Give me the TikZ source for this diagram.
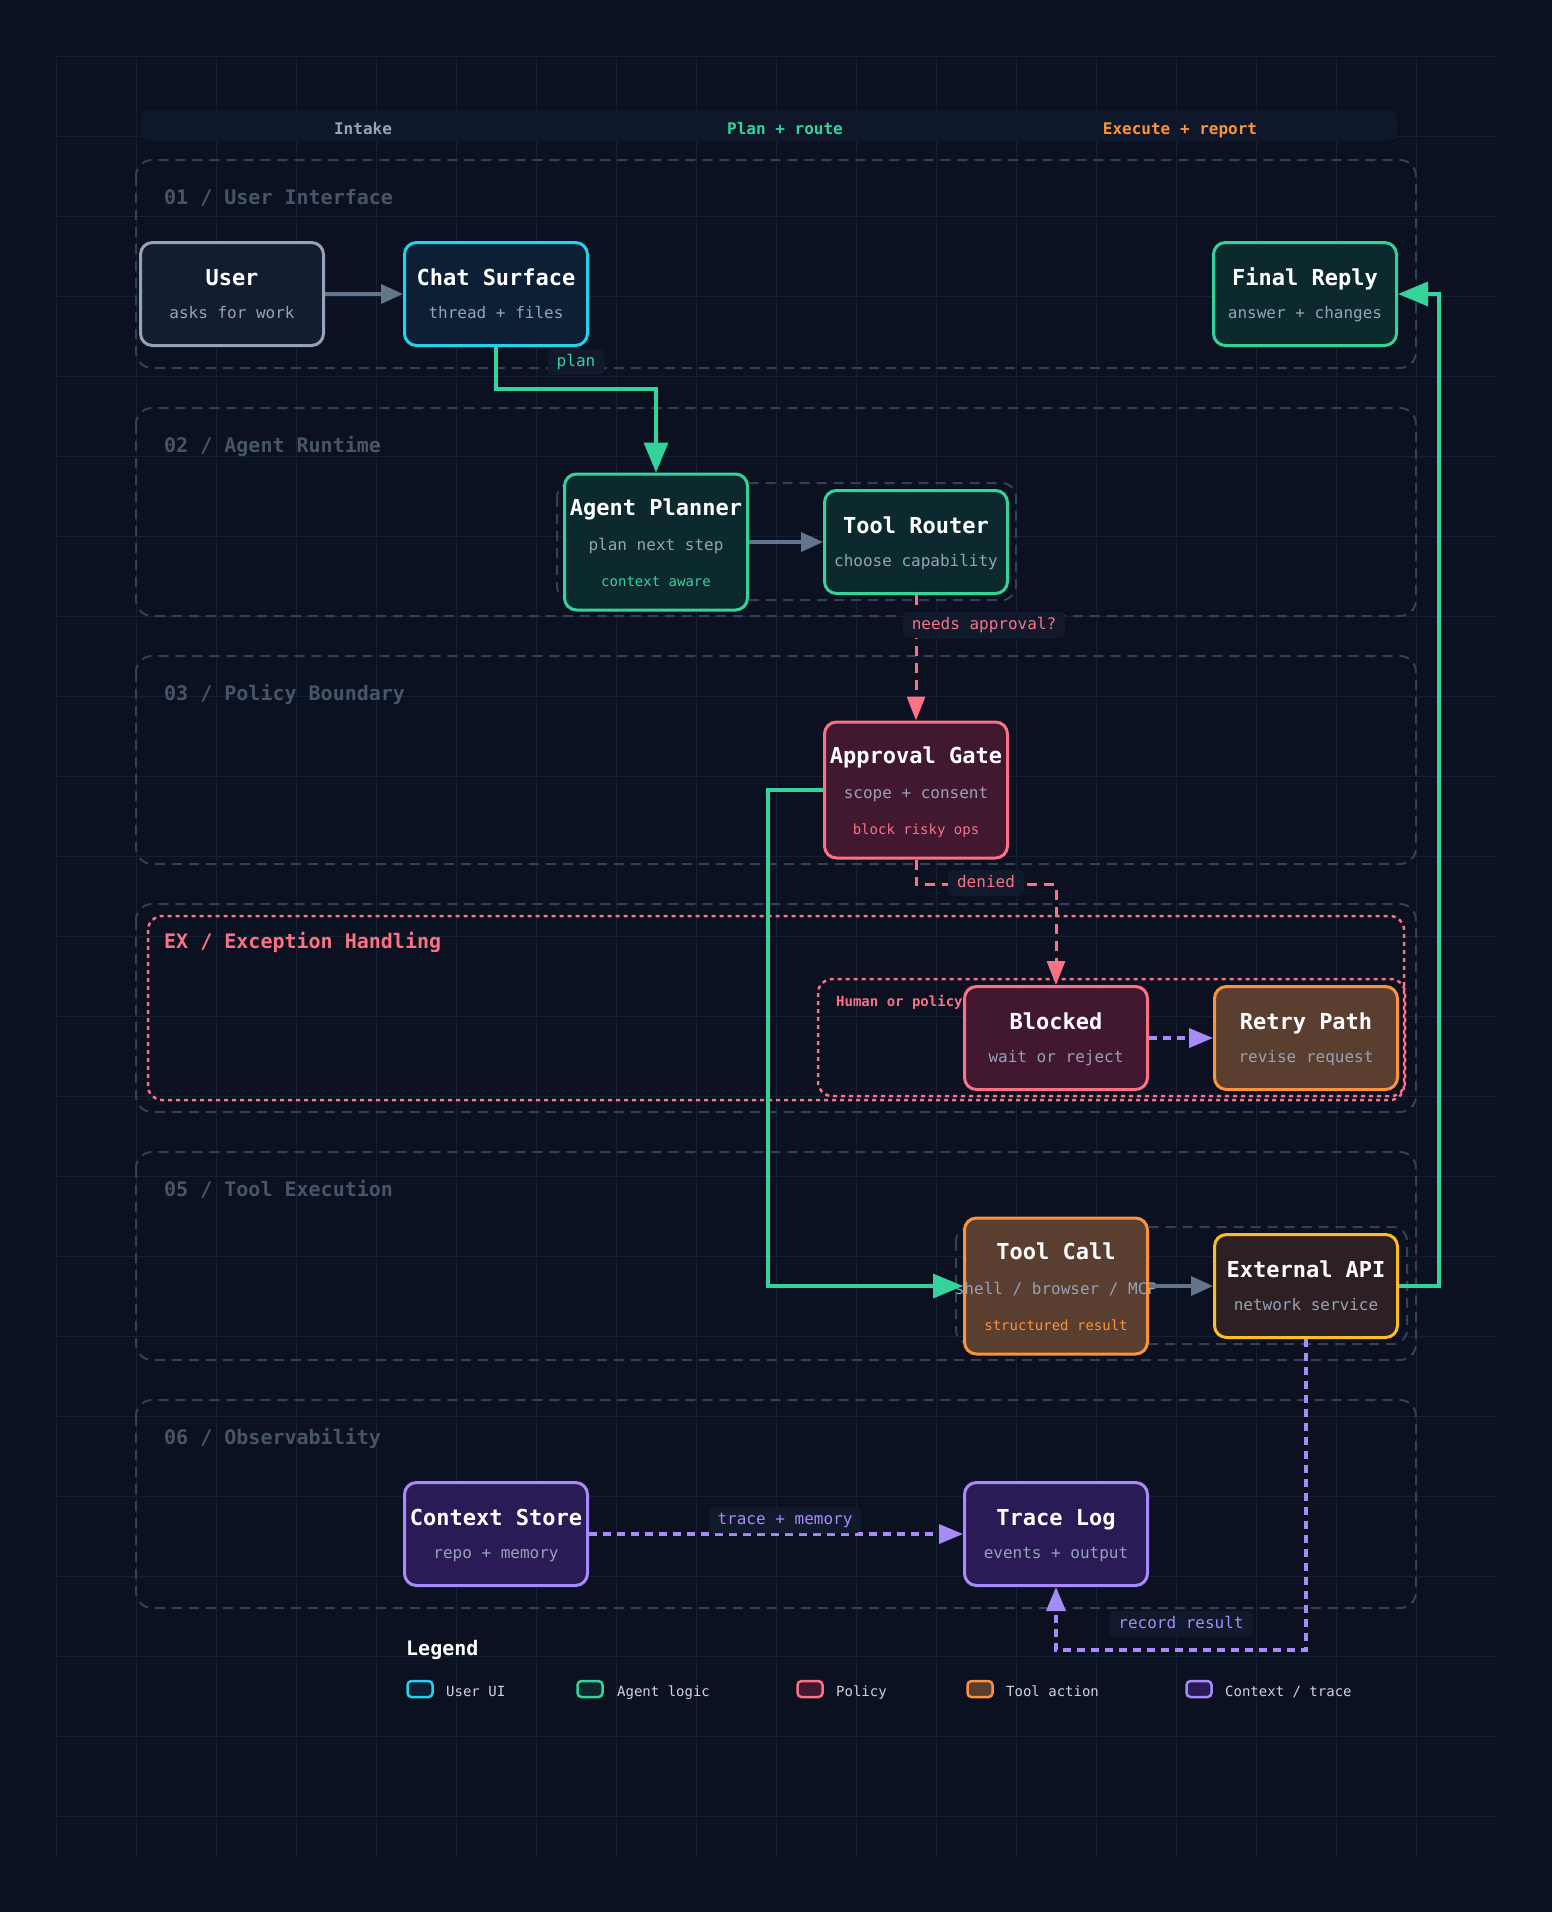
\documentclass[tikz,border=0pt]{standalone}
\usepackage{fontspec}
\setmainfont{DejaVu Sans Mono}
\usetikzlibrary{arrows.meta,calc}
\definecolor{bgc}{HTML}{0B1120}
\definecolor{gridc}{HTML}{142033}
\definecolor{lanec}{HTML}{334155}
\definecolor{lanetxt}{HTML}{475569}
\definecolor{hdrc}{HTML}{0F172A}
\definecolor{subc}{HTML}{94A3B8}
\definecolor{grayc}{HTML}{64748B}
\definecolor{greenc}{HTML}{34D399}
\definecolor{cyanc}{HTML}{22D3EE}
\definecolor{pinkc}{HTML}{FB7185}
\definecolor{orangec}{HTML}{FB923C}
\definecolor{amberc}{HTML}{FBBF24}
\definecolor{violetc}{HTML}{A78BFA}
\definecolor{userf}{HTML}{131D2F}
\definecolor{chatf}{HTML}{0C1F35}
\definecolor{agentf}{HTML}{0C2A2E}
\definecolor{policyf}{HTML}{421730}
\definecolor{toolf}{HTML}{5A3E2F}
\definecolor{extf}{HTML}{2E1F22}
\definecolor{ctxf}{HTML}{2A1A55}
\definecolor{lblf}{HTML}{111A2D}
\definecolor{legtxt}{HTML}{CBD5E1}

\newcommand{\twolines}[3]{%
  \node[ttl] (#1-t) at ($(#1.center)+(0,-9)$) {#2};
  \node[subt] (#1-s) at ($(#1.center)+(0,24)$) {#3};}
\newcommand{\threelines}[5]{%
  \node[ttl] (#1-t) at ($(#1.center)+(0,-27)$) {#2};
  \node[subt] (#1-s) at ($(#1.center)+(0,8)$) {#3};
  \node[xtra, text=#5] (#1-x) at ($(#1.center)+(0,44)$) {#4};}
\newcommand{\lanebox}[3]{%
  \draw[lanestyle] (136,#2) rectangle (1416,{#2+208});
  \node[lanelbl] (#1) at (164,{#2+44}) {#3};}

\begin{document}
\begin{tikzpicture}[x=1pt,y=-1pt,
  box/.style={draw, rounded corners=12pt, line width=3pt, minimum width=183pt, minimum height=103pt, inner sep=0pt},
  tallbox/.style={box, minimum height=136pt},
  ttl/.style={anchor=base, inner sep=0pt, text=white, font=\fontsize{22}{26}\selectfont\bfseries},
  subt/.style={anchor=base, inner sep=0pt, text=subc, font=\fontsize{16}{19}\selectfont},
  xtra/.style={anchor=base, inner sep=0pt, font=\fontsize{14}{17}\selectfont},
  hdr/.style={anchor=base, inner sep=0pt, font=\fontsize{16}{19}\selectfont\bfseries},
  lanestyle/.style={draw=lanec, line width=2pt, dash pattern=on 10pt off 7pt, rounded corners=16pt},
  lanelbl/.style={anchor=base west, inner sep=0pt, text=lanetxt, font=\fontsize{20}{24}\selectfont\bfseries},
  groupbox/.style={draw=lanec, line width=2pt, dash pattern=on 10pt off 7pt, rounded corners=14pt},
  pinkgroup/.style={draw=pinkc, line width=2.5pt, dash pattern=on 4pt off 4pt, rounded corners=14pt},
  elbl/.style={fill=lblf, rounded corners=5pt, inner xsep=9pt, inner ysep=0pt, minimum height=26pt, text height=11pt, text depth=3pt, font=\fontsize{16}{19}\selectfont},
  grayarrow/.style={draw=grayc, line width=3.5pt, -{Triangle[length=22pt,width=19pt]}},
  greenarrow/.style={draw=greenc, line width=3.5pt, -{Triangle[length=30pt,width=24pt]}},
  pinkarrow/.style={draw=pinkc, line width=3pt, dash pattern=on 10pt off 7pt, -{Triangle[length=24pt,width=18pt]}},
  violetarrow/.style={draw=violetc, line width=3.5pt, dash pattern=on 8pt off 6pt, -{Triangle[length=24pt,width=19pt]}},
  legsq/.style={draw, line width=2.5pt, rounded corners=4pt, minimum width=25pt, minimum height=16pt, inner sep=0pt},
  legtext/.style={anchor=base west, inner sep=0pt, text=legtxt, font=\fontsize{14}{17}\selectfont}
]
\useasboundingbox (0,0) rectangle (1552,1912);
\fill[bgc] (0,0) rectangle (1552,1912);
% grid
\foreach \i in {0,...,17} \draw[gridc, line width=1pt] ({56+80*\i},56) -- ({56+80*\i},1856);
\foreach \j in {0,...,22} \draw[gridc, line width=1pt] (56,{56+80*\j}) -- (1496,{56+80*\j});

% header band
\fill[hdrc, rounded corners=8pt] (141,110) rectangle (1397,141);
\node[hdr, text=subc] (h1) at (363,134) {Intake};
\node[hdr, text=greenc] (h2) at (785,134) {Plan + route};
\node[hdr, text=orangec] (h3) at (1180,134) {Execute + report};

% lanes
\lanebox{l1}{160}{01 / User Interface}
\lanebox{l2}{408}{02 / Agent Runtime}
\lanebox{l3}{656}{03 / Policy Boundary}
\draw[lanestyle] (136,904) rectangle (1416,1112);
\draw[pinkgroup] (148,916) rectangle (1404,1100);
\node[lanelbl, text=pinkc] (l4) at (164,948) {EX / Exception Handling};
\lanebox{l5}{1152}{05 / Tool Execution}
\lanebox{l6}{1400}{06 / Observability}

% groups
\draw[groupbox] (557,483) rectangle (1016,600);
\draw[pinkgroup] (818,979) rectangle (1405,1096);
\node[anchor=base west, inner sep=0pt, text=pinkc, font=\fontsize{14}{17}\selectfont\bfseries] (hp) at (836,1006) {Human or policy};
\draw[groupbox] (956,1227) rectangle (1407,1344);

% nodes
\node[box, draw=subc, fill=userf] (user) at (232,294) {};
\node[box, draw=cyanc, fill=chatf] (chat) at (496,294) {};
\node[box, draw=greenc, fill=agentf] (final) at (1305,294) {};
\node[tallbox, draw=greenc, fill=agentf] (planner) at (656,542) {};
\node[box, draw=greenc, fill=agentf] (router) at (916,542) {};
\node[tallbox, draw=pinkc, fill=policyf] (gate) at (916,790) {};
\node[box, draw=pinkc, fill=policyf] (blocked) at (1056,1038) {};
\node[box, draw=orangec, fill=toolf] (retry) at (1306,1038) {};
\node[tallbox, draw=orangec, fill=toolf] (toolcall) at (1056,1286) {};
\node[box, draw=amberc, fill=extf] (extapi) at (1306,1286) {};
\node[box, draw=violetc, fill=ctxf] (ctx) at (496,1534) {};
\node[box, draw=violetc, fill=ctxf] (trace) at (1056,1534) {};

\twolines{user}{User}{asks for work}
\twolines{chat}{Chat Surface}{thread + files}
\twolines{final}{Final Reply}{answer + changes}
\threelines{planner}{Agent Planner}{plan next step}{context aware}{greenc}
\twolines{router}{Tool Router}{choose capability}
\threelines{gate}{Approval Gate}{scope + consent}{block risky ops}{pinkc}
\twolines{blocked}{Blocked}{wait or reject}
\twolines{retry}{Retry Path}{revise request}
\threelines{toolcall}{Tool Call}{shell / browser / MCP}{structured result}{orangec}
\twolines{extapi}{External API}{network service}
\twolines{ctx}{Context Store}{repo + memory}
\twolines{trace}{Trace Log}{events + output}

% edges
\draw[grayarrow] (user.east) -- (chat.west);
\draw[greenarrow] (chat.south) -- ++(0,42) -| (planner.north);
\draw[grayarrow] (planner.east) -- (router.west);
\draw[pinkarrow] (router.south) -- (gate.north);
\draw[pinkarrow] (gate.south) -- ++(0,25) -| (blocked.north);
\draw[violetarrow] (blocked.east) -- (retry.west);
\draw[greenarrow] (gate.west) -- ++(-55,0) |- (toolcall.west);
\draw[grayarrow] (toolcall.east) -- (extapi.west);
\draw[greenarrow] (extapi.east) -- ++(40,0) |- (final.east);
\draw[violetarrow] (ctx.east) -- (trace.west);
\coordinate (rr) at (1306,1650);
\draw[violetarrow] (extapi.south) -- (rr) -| (trace.south);

% edge labels
\node[elbl, text=greenc] (e1) at (576,362) {plan};
\node[elbl, text=pinkc] (e2) at (984,625) {needs approval?};
\node[elbl, text=pinkc] (e3) at (986,883) {denied};
\node[elbl, text=violetc] (e4) at (785,1520) {trace + memory};
\node[elbl, text=violetc] (e5) at (1181,1624) {record result};

% legend
\node[anchor=base west, inner sep=0pt, text=white, font=\fontsize{20}{24}\selectfont\bfseries] (legend) at (406,1655) {Legend};
\node[legsq, draw=cyanc, fill=chatf] (lg1) at (420,1689) {};
\node[legtext] (lt1) at (446,1696) {User UI};
\node[legsq, draw=greenc, fill=agentf] (lg2) at (590,1689) {};
\node[legtext] (lt2) at (617,1696) {Agent logic};
\node[legsq, draw=pinkc, fill=policyf] (lg3) at (810,1689) {};
\node[legtext] (lt3) at (836,1696) {Policy};
\node[legsq, draw=orangec, fill=toolf] (lg4) at (980,1689) {};
\node[legtext] (lt4) at (1006,1696) {Tool action};
\node[legsq, draw=violetc, fill=ctxf] (lg5) at (1199,1689) {};
\node[legtext] (lt5) at (1225,1696) {Context / trace};
\end{tikzpicture}
\end{document}
